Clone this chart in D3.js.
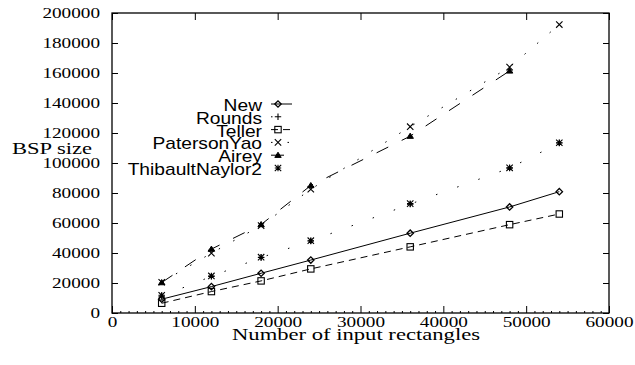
<!DOCTYPE html>
<html>
<head>
<meta charset="utf-8">
<script src="https://cdnjs.cloudflare.com/ajax/libs/d3/7.8.5/d3.min.js"></script>
<style>
  body { margin: 0; background: #fff; }
  svg { display: block; }
  .tick line { stroke: #000; stroke-width: 1; }
</style>
</head>
<body>
<div id="chart"></div>
<script>
"use strict";

// input sizes (x) shared by all series
var xVals = [6000, 12000, 18000, 24000, 36000, 48000, 54000];

// BSP sizes
var newVals             = [9200, 17600, 26500, 35300, 53200, 70700, 80900];
var roundsVals          = [11200, 24400, 37000, 48000, 72600, 96600, 113300];
var tellerVals          = [6500, 14300, 21400, 29400, 44100, 58900, 66000];
var patersonYaoVals     = [20500, 39900, 58300, 82500, 124200, 163900, 192300];
var aireyVals           = [20300, 42600, 59000, 85000, 117900, 161400];
var thibaultNaylorVals  = [11800, 24700, 37200, 48200, 72900, 96800, 113500];

var seriesNames = ["New", "Rounds", "Teller", "PatersonYao", "Airey", "ThibaultNaylor2"];

var xTicks = [0, 10000, 20000, 30000, 40000, 50000, 60000];
var yTicks = [0, 20000, 40000, 60000, 80000, 100000, 120000, 140000, 160000, 180000, 200000];

(function () {
var W = 635, H = 365;
var pLeft = 112, pRight = 609, pTop = 13, pBottom = 313;

var svg = d3.select("#chart").append("svg")
    .attr("width", W).attr("height", H);

var x = d3.scaleLinear().domain([0, 60000]).range([pLeft, pRight]);
var y = d3.scaleLinear().domain([0, 200000]).range([pBottom, pTop]);

var serif = "'Liberation Serif', 'DejaVu Serif', serif";
var sans = "'Liberation Sans', Arimo, sans-serif";

// ---- axes (ticks point inwards, like gnuplot) ----
var gx = svg.append("g").attr("transform", "translate(0," + pBottom + ")")
    .call(d3.axisBottom(x).tickValues(xTicks).tickSize(-7).tickPadding(3).tickFormat(d3.format("d")));

svg.append("g").attr("transform", "translate(0," + pBottom + ")")
    .call(d3.axisBottom(x).tickValues(d3.range(1000, 60000, 1000).filter(function (d) { return d % 10000 != 0; }))
        .tickSize(-2).tickFormat(""));

svg.append("g").attr("transform", "translate(0," + pTop + ")")
    .call(d3.axisTop(x).tickValues(xTicks).tickSize(-7).tickFormat(""));

var gy = svg.append("g").attr("transform", "translate(" + pLeft + ",0)")
    .call(d3.axisLeft(y).tickValues(yTicks).tickSize(-6).tickPadding(12).tickFormat(d3.format("d")));

svg.append("g").attr("transform", "translate(" + pRight + ",0)")
    .call(d3.axisRight(y).tickValues(yTicks).tickSize(-6).tickFormat(""));

svg.selectAll(".domain").remove();

// tick labels: wide roman digits
var stretch = 1.28;
gx.selectAll(".tick text")
    .attr("font-family", serif).attr("font-size", 15).attr("fill", "#000")
    .attr("transform", "scale(" + stretch + ",1)");
gy.selectAll(".tick text")
    .attr("font-family", serif).attr("font-size", 15).attr("fill", "#000")
    .attr("x", -12 / stretch)
    .attr("transform", "scale(" + stretch + ",1)");

// frame
svg.append("rect")
    .attr("x", pLeft).attr("y", pTop)
    .attr("width", pRight - pLeft).attr("height", pBottom - pTop)
    .attr("fill", "none").attr("stroke", "#000").attr("stroke-width", 1.3);

// axis titles
svg.append("text")
    .attr("x", 356).attr("y", 340)
    .attr("text-anchor", "middle")
    .attr("font-family", serif).attr("font-size", 16)
    .attr("textLength", 248).attr("lengthAdjust", "spacingAndGlyphs")
    .text("Number of input rectangles");

svg.append("text")
    .attr("x", 12).attr("y", 154)
    .attr("font-family", serif).attr("font-size", 16)
    .attr("textLength", 80).attr("lengthAdjust", "spacingAndGlyphs")
    .text("BSP size");

// ---- marker shapes ----
function marker(g, kind, cx, cy) {
    var s = 3.2;
    if (kind == "diamond") {
        g.append("path").attr("d", "M" + (cx - s) + "," + cy + "L" + cx + "," + (cy - s) + "L" + (cx + s) + "," + cy + "L" + cx + "," + (cy + s) + "Z")
            .attr("fill", "none").attr("stroke", "#000").attr("stroke-width", 1.3);
    } else if (kind == "plus") {
        g.append("path").attr("d", "M" + (cx - s) + "," + cy + "H" + (cx + s) + "M" + cx + "," + (cy - s) + "V" + (cy + s))
            .attr("stroke", "#000").attr("stroke-width", 1.1);
    } else if (kind == "square") {
        g.append("rect").attr("x", cx - s).attr("y", cy - s).attr("width", 2 * s).attr("height", 2 * s)
            .attr("fill", "none").attr("stroke", "#000").attr("stroke-width", 1.1);
    } else if (kind == "cross") {
        g.append("path").attr("d", "M" + (cx - s) + "," + (cy - s) + "L" + (cx + s) + "," + (cy + s) + "M" + (cx + s) + "," + (cy - s) + "L" + (cx - s) + "," + (cy + s))
            .attr("stroke", "#000").attr("stroke-width", 1.1);
    } else if (kind == "triangle") {
        g.append("path").attr("d", "M" + (cx - s) + "," + (cy + 2.2) + "L" + cx + "," + (cy - 3) + "L" + (cx + s) + "," + (cy + 2.2) + "Z")
            .attr("fill", "#000").attr("stroke", "#000").attr("stroke-width", 1);
    } else if (kind == "star") {
        g.append("path").attr("d", "M" + (cx - s) + "," + cy + "H" + (cx + s) + "M" + cx + "," + (cy - s) + "V" + (cy + s) +
            "M" + (cx - s) + "," + (cy - s) + "L" + (cx + s) + "," + (cy + s) + "M" + (cx + s) + "," + (cy - s) + "L" + (cx - s) + "," + (cy + s))
            .attr("stroke", "#000").attr("stroke-width", 1.1);
    }
}

var seriesVals = [newVals, roundsVals, tellerVals, patersonYaoVals, aireyVals, thibaultNaylorVals];
var styles = [
    {dash: null, mark: "diamond", line: true},
    {dash: "1.5,21", mark: "plus", line: true},
    {dash: "7,5", mark: "square", line: true},
    {dash: "1.5,15", mark: "cross", line: true},
    {dash: "13,15", mark: "triangle", line: true},
    {dash: null, mark: "star", line: false}
];

var line = d3.line()
    .x(function (d) { return x(d[0]); })
    .y(function (d) { return y(d[1]); });

var plot = svg.append("g");
seriesVals.forEach(function (vals, i) {
    var pts = vals.map(function (v, j) { return [xVals[j], v]; });
    var st = styles[i];
    var g = plot.append("g");
    if (st.line) {
        g.append("path").datum(pts)
            .attr("d", line)
            .attr("fill", "none").attr("stroke", "#000").attr("stroke-width", 1)
            .attr("stroke-dasharray", st.dash);
    }
    pts.forEach(function (p) { marker(g, st.mark, x(p[0]), y(p[1])); });
});

// ---- legend (gnuplot style: names right aligned, sample to the right) ----
var legend = svg.append("g");
seriesNames.forEach(function (name, i) {
    var base = 111 + i * 12.8;
    var st = styles[i];
    legend.append("text")
        .attr("transform", "translate(262," + base + ") scale(1.2,1)")
        .attr("text-anchor", "end")
        .attr("font-family", sans).attr("font-size", 16)
        .text(name);
    var ly = base - 7;
    if (st.line) {
        legend.append("path")
            .attr("d", "M271," + ly + "H292")
            .attr("fill", "none").attr("stroke", "#000").attr("stroke-width", 1)
            .attr("stroke-dasharray", st.dash);
    }
    marker(legend, st.mark, 278, ly);
});
})();
</script>
</body>
</html>
